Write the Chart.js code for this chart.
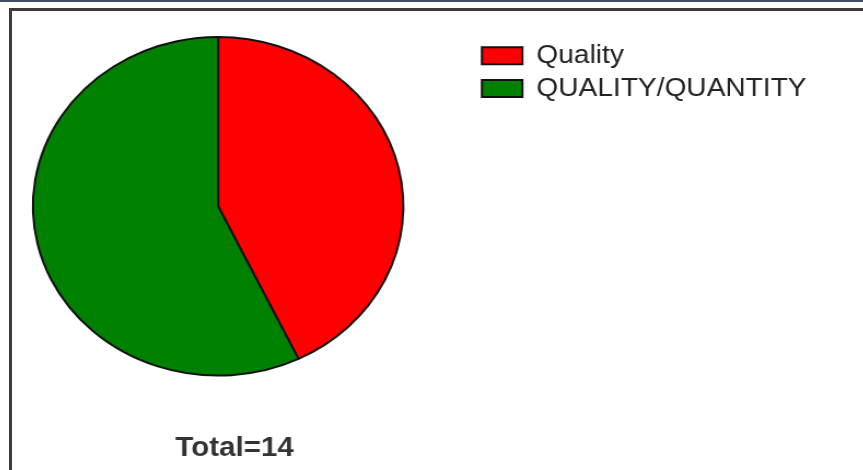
<!DOCTYPE html>
<html>
<head>
<meta charset="utf-8">
<script src="https://cdn.jsdelivr.net/npm/chart.js@4/dist/chart.umd.min.js"></script>
<style>
  html, body { margin: 0; padding: 0; background: #fff; overflow: hidden; }
  body { width: 863px; height: 470px; position: relative; }
  .topbar { position: absolute; left: 0; top: 0; width: 863px; height: 2px; background: #3e4f61; }
  .frame { position: absolute; left: 9px; top: 8px; width: 900px; height: 500px;
           border-left: 3px solid #3c3c3c; border-top: 3px solid #3c3c3c; }
  /* canvas is drawn a bit narrower and stretched sideways, like the source image */
  .wrap { position: absolute; left: -38px; top: 0; width: 789px; height: 470px;
          transform: scaleX(1.094); transform-origin: 0 0; }
</style>
</head>
<body>
<div class="topbar"></div>
<div class="frame"></div>
<div class="wrap"><canvas id="pieChart" width="789" height="470"></canvas></div>
<script>
// chart data
const labels = ['Quality', 'QUALITY/QUANTITY'];
const counts = [6, 8];
const colors = ['#ff0000', '#008000'];

const total = counts.reduce((a, b) => a + b, 0);

const ctx = document.getElementById('pieChart');
new Chart(ctx, {
    type: 'pie',
    data: {
        labels: labels,
        datasets: [{
            data: counts,
            backgroundColor: colors,
            borderColor: '#111',
            borderWidth: 2
        }]
    },
    options: {
        responsive: false,
        animation: false,
        layout: { padding: { left: 0, right: 7, top: 36, bottom: 0 } },
        plugins: {
            legend: {
                position: 'right',
                align: 'start',
                labels: {
                    boxWidth: 37,
                    boxHeight: 17,
                    padding: 7,
                    color: '#222',
                    font: { family: 'Liberation Sans, Arial, sans-serif', size: 25.7 }
                }
            },
            title: {
                display: true,
                position: 'bottom',
                fullSize: false,
                text: '    Total=' + total,
                color: '#333',
                font: { family: 'Liberation Sans, Arial, sans-serif', size: 27, weight: 'bold' },
                padding: { top: 56, bottom: 5 }
            },
            tooltip: { enabled: false }
        }
    }
});
</script>
</body>
</html>
